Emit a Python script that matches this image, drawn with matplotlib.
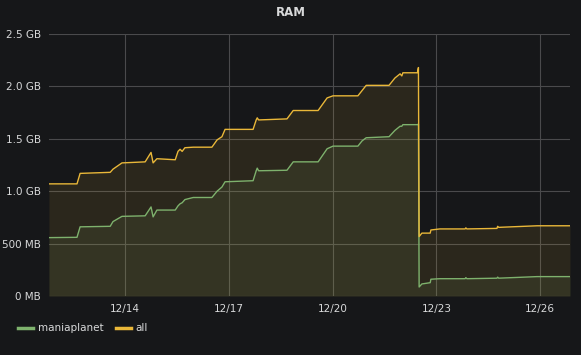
import numpy as np
import matplotlib.pyplot as plt

# time in days of December, memory in GB
days = [11.80, 12.61, 12.70, 13.57, 13.65, 13.91, 14.58, 14.75, 14.81, 14.92,
        15.45, 15.53, 15.59, 15.65, 15.73, 15.97, 16.51, 16.66, 16.80, 16.89,
        17.70, 17.79, 17.82, 17.86, 18.68, 18.86, 19.58, 19.84, 20.01, 20.73,
        20.85, 20.97, 21.63, 21.80, 21.95, 22.00, 22.03, 22.45, 22.48, 22.50,
        22.58, 22.82, 22.84, 23.10, 23.83, 23.85, 23.88, 24.75, 24.77, 24.80,
        25.91, 26.86]
all_gb = [1.07, 1.07, 1.17, 1.18, 1.21, 1.27, 1.28, 1.37, 1.27, 1.31,
          1.30, 1.38, 1.40, 1.38, 1.415, 1.42, 1.42, 1.49, 1.52, 1.59,
          1.59, 1.68, 1.70, 1.68, 1.69, 1.77, 1.77, 1.89, 1.91, 1.91,
          1.96, 2.01, 2.01, 2.08, 2.12, 2.10, 2.13, 2.13, 2.18, 0.567,
          0.60, 0.60, 0.63, 0.64, 0.64, 0.65, 0.64, 0.645, 0.665, 0.655,
          0.67, 0.67]
mp_gb = [0.557, 0.56, 0.66, 0.665, 0.71, 0.76, 0.765, 0.85, 0.755, 0.82,
         0.82, 0.86, 0.88, 0.89, 0.92, 0.94, 0.94, 1.00, 1.04, 1.09,
         1.10, 1.195, 1.22, 1.195, 1.20, 1.28, 1.28, 1.405, 1.43, 1.43,
         1.48, 1.51, 1.52, 1.58, 1.62, 1.62, 1.635, 1.635, 1.64, 0.086,
         0.115, 0.127, 0.16, 0.165, 0.165, 0.175, 0.165, 0.17, 0.18, 0.17,
         0.185, 0.185]

xticks = [14, 17, 20, 23, 26]
xlabels = ['12/14', '12/17', '12/20', '12/23', '12/26']
yticks = [0, 0.5, 1.0, 1.5, 2.0, 2.5]
ylabels = ['0 MB', '500 MB', '1.0 GB', '1.5 GB', '2.0 GB', '2.5 GB']

bg = '#161719'
green = '#7EB26D'
yellow = '#EAB839'
txt = '#d8d9da'

fig = plt.figure(figsize=(5.81, 3.55), dpi=100, facecolor=bg)
ax = fig.add_axes([0.0843, 0.1662, 0.981 - 0.0843, 0.9042 - 0.1662], facecolor=bg)

ax.fill_between(days, mp_gb, 0, color=green, alpha=0.1, lw=0)
ax.fill_between(days, all_gb, 0, color=yellow, alpha=0.1, lw=0)
ax.plot(days, mp_gb, color=green, lw=1, label='maniaplanet')
ax.plot(days, all_gb, color=yellow, lw=1, label='all')

ax.set_xlim(11.80, 26.86)
ax.set_ylim(0, 2.5)
ax.set_xticks(xticks)
ax.set_xticklabels(xlabels)
ax.set_yticks(yticks)
ax.set_yticklabels(ylabels)
ax.tick_params(colors=txt, labelsize=7.5, length=0, pad=6)
ax.grid(True, color='#4a4a4c', lw=0.8)
ax.set_axisbelow(True)
for s in ax.spines.values():
    s.set_visible(False)

fig.text(0.5, 0.965, 'RAM', color=txt, fontsize=8.5, fontweight='bold',
         ha='center', va='center')

leg = fig.legend(loc='lower left', bbox_to_anchor=(0.015, 0.035), ncol=2,
                 frameon=False, fontsize=7.5, handlelength=1.4,
                 handletextpad=0.5, columnspacing=1.2)
for t in leg.get_texts():
    t.set_color(txt)
for line in leg.get_lines():
    line.set_linewidth(2.5)

fig.savefig('out.png', dpi=100, facecolor=bg)
